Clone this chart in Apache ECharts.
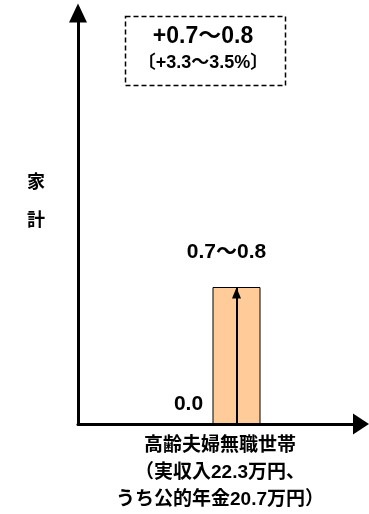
<!DOCTYPE html>
<html>
<head>
<meta charset="utf-8">
<script src="https://cdn.jsdelivr.net/npm/echarts@6/dist/echarts.min.js"></script>
<style>
  html, body { margin: 0; padding: 0; background: #fff; }
  #chart { width: 369px; height: 514px; }
</style>
</head>
<body>
<div id="chart"></div>
<script>
// Household budget effect for elderly jobless couple households
const categories = ['高齢夫婦無職世帯\n（実収入22.3万円、\nうち公的年金20.7万円）'];
const baseValues = [0.0];
const effectValues = [0.8];
const effectLabels = ['0.7〜0.8'];
const baseLabels = ['0.0'];
const summaryLines = ['+0.7〜0.8', '〔+3.3〜3.5%〕'];
const axisNameChars = ['家', '計'];
const yMax = 2.4;

const FONT = "'Liberation Sans', 'Noto Sans CJK JP', sans-serif";

const chart = echarts.init(document.getElementById('chart'));

chart.setOption({
  animation: false,
  backgroundColor: '#ffffff',
  grid: [
    { left: 78, right: 8, top: 13, bottom: 90, containLabel: false, outerBoundsMode: 'none' },
    { left: 156, right: 52, top: 13, bottom: 90, containLabel: false, outerBoundsMode: 'none' }
  ],
  xAxis: [
    {
      gridIndex: 0, type: 'value', min: 0, max: 1,
      axisLine: { show: true, lineStyle: { color: '#000', width: 3 }, symbol: ['none', 'triangle'], symbolSize: [21, 16] },
      axisTick: { show: false }, axisLabel: { show: false }, splitLine: { show: false }
    },
    {
      gridIndex: 1, type: 'category', data: categories,
      axisLine: { show: false }, axisTick: { show: false }, splitLine: { show: false },
      axisLabel: {
        show: true, margin: 8, color: '#000', fontFamily: FONT, fontWeight: 'bold',
        fontSize: 19, lineHeight: 27, padding: [0, 33, 0, 0]
      }
    }
  ],
  yAxis: [
    {
      gridIndex: 0, type: 'value', min: 0, max: yMax,
      axisLine: { show: true, lineStyle: { color: '#000', width: 3 }, symbol: ['none', 'triangle'], symbolSize: [18, 19] },
      axisTick: { show: false }, axisLabel: { show: false }, splitLine: { show: false }
    },
    {
      gridIndex: 1, type: 'value', min: 0, max: yMax, show: false
    }
  ],
  series: [
    {
      type: 'bar',
      xAxisIndex: 1, yAxisIndex: 1,
      data: effectValues,
      barWidth: 48,
      itemStyle: { color: '#FFCC99', borderColor: '#000', borderWidth: 1 },
      label: {
        show: true, position: 'top', distance: 24, offset: [-10, 0],
        formatter: (p) => effectLabels[p.dataIndex],
        color: '#000', fontFamily: FONT, fontWeight: 'bold', fontSize: 21
      },
      markLine: {
        silent: true,
        symbol: ['none', 'triangle'],
        symbolSize: [9, 11],
        symbolOffset: [[0, 0], [0, 6]],
        label: { show: false },
        lineStyle: { color: '#000', width: 2, type: 'solid' },
        data: [[
          { coord: [0, baseValues[0]] },
          { coord: [0, effectValues[0]] }
        ]]
      },
      markPoint: {
        silent: true,
        symbolSize: 0,
        data: [{
          coord: [0, baseValues[0]],
          label: {
            show: true, formatter: baseLabels[0], offset: [-48, -20],
            color: '#000', fontFamily: FONT, fontWeight: 'bold', fontSize: 21
          }
        }]
      }
    }
  ],
  graphic: [
    {
      type: 'rect', left: 123, top: 14,
      shape: { width: 160, height: 69 },
      style: { fill: 'none', stroke: '#000', lineWidth: 1.5, lineDash: [5, 3] }
    },
    {
      type: 'text', x: 203, y: 37,
      style: { text: summaryLines[0], fill: '#000', font: 'bold 23px ' + FONT, align: 'center', verticalAlign: 'middle' }
    },
    {
      type: 'text', x: 203, y: 63,
      style: { text: summaryLines[1], fill: '#000', font: 'bold 18px ' + FONT, align: 'center', verticalAlign: 'middle' }
    },
    {
      type: 'text', x: 36, y: 183,
      style: { text: axisNameChars[0], fill: '#000', font: 'bold 18px ' + FONT, align: 'center', verticalAlign: 'middle' }
    },
    {
      type: 'text', x: 36, y: 221,
      style: { text: axisNameChars[1], fill: '#000', font: 'bold 18px ' + FONT, align: 'center', verticalAlign: 'middle' }
    }
  ]
});
</script>
</body>
</html>
